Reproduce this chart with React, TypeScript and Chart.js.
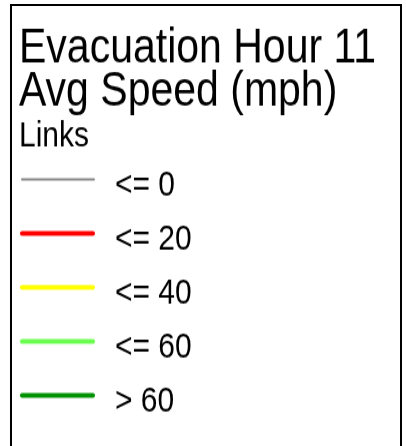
import React, { useEffect, useRef } from 'react';
import { Chart, registerables } from 'chart.js';

Chart.register(...registerables);

const FONT = "'Liberation Sans', Arial, Helvetica, sans-serif";

const titleLines = ['Evacuation Hour 11', 'Avg Speed (mph)'];
const subtitleText = 'Links';
const classLabels = ['<= 0', '<= 20', '<= 40', '<= 60', '> 60'];
const classColors = ['#898989', '#ff0000', '#ffff00', '#6bff4f', '#009100'];
const classLineWidths = [2, 4, 4, 4, 4];

const STRETCH_Y = 1.2;

export default function App() {
  const ref = useRef<HTMLCanvasElement>(null);

  useEffect(() => {
    if (!ref.current) return;
    const swatchWidth = 78;
    const chart = new Chart(ref.current, {
      type: 'line',
      data: {
        labels: [],
        datasets: classLabels.map((label, i) => ({
          label,
          data: [],
          borderColor: classColors[i],
          backgroundColor: 'rgba(0,0,0,0)',
          borderWidth: classLineWidths[i],
          borderCapStyle: 'round',
        })),
      },
      options: {
        animation: false,
        responsive: true,
        maintainAspectRatio: false,
        events: [],
        layout: { padding: { left: 19, top: 0, right: 0, bottom: 0 } },
        scales: { x: { display: false }, y: { display: false } },
        plugins: {
          tooltip: { enabled: false },
          title: {
            display: true,
            text: titleLines,
            align: 'start',
            color: '#000',
            font: { family: FONT, size: 41, weight: 'normal', lineHeight: 36.7 / 41 },
            padding: { top: 22, bottom: 0 },
          },
          subtitle: {
            display: true,
            text: subtitleText,
            align: 'start',
            color: '#000',
            font: { family: FONT, size: 30, weight: 'normal', lineHeight: 1 },
            padding: { top: 3, bottom: 8 },
          },
          legend: {
            display: true,
            position: 'left',
            align: 'start',
            fullSize: false,
            maxWidth: 300,
            labels: {
              color: '#000',
              font: { family: FONT, size: 30, weight: 'normal', lineHeight: 1.4 },
              padding: 3,
              boxWidth: swatchWidth,
              boxHeight: 10,
              generateLabels: (c: any) =>
                c.data.datasets.map((ds: any, i: number) => ({
                  text: [ds.label],
                  fillStyle: 'rgba(0,0,0,0)',
                  strokeStyle: ds.borderColor,
                  lineWidth: ds.borderWidth,
                  lineCap: 'round',
                  lineJoin: 'round',
                  lineDash: [swatchWidth - 7 + (ds.borderWidth < 3 ? 1 : 0), 1000],
                  lineDashOffset: 0,
                  fontColor: '#000',
                  hidden: false,
                  datasetIndex: i,
                })),
            },
          },
        },
      } as any,
    });
    return () => chart.destroy();
  }, []);

  return (
    <div
      style={{
        position: 'fixed',
        left: 0,
        top: 0,
        width: 406,
        height: 446,
        overflow: 'hidden',
        background: '#fff',
      }}
    >
      <div
        style={{
          position: 'absolute',
          left: 10,
          top: 4,
          width: 392,
          height: 600,
          border: '2px solid #000',
          boxSizing: 'border-box',
        }}
      />
      <div
        style={{
          position: 'absolute',
          left: 0,
          top: 0,
          width: 406,
          height: 420,
          transform: `scaleY(${STRETCH_Y})`,
          transformOrigin: '0 0',
        }}
      >
        <canvas ref={ref} style={{ display: 'block' }} />
      </div>
    </div>
  );
}
